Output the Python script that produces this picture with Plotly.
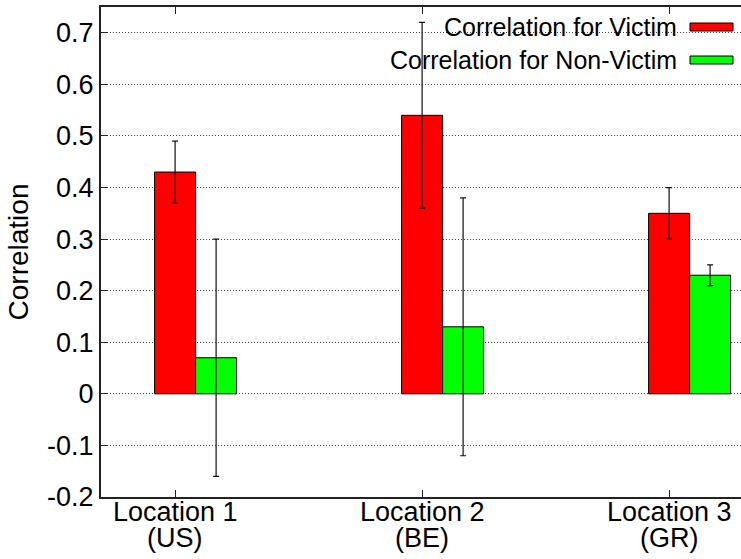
import plotly.graph_objects as go

# Correlation per location, with error half-widths
locations = ["Location 1", "Location 2", "Location 3"]
countries = ["(US)", "(BE)", "(GR)"]
victim = [0.43, 0.54, 0.35]
victim_err = [0.06, 0.18, 0.05]
non_victim = [0.07, 0.13, 0.23]
non_victim_err = [0.23, 0.25, 0.02]
series_names = ["Correlation for Victim", "Correlation for Non-Victim"]
series_colors = ["#ff0000", "#00ff00"]
y_ticks = [-0.2, -0.1, 0, 0.1, 0.2, 0.3, 0.4, 0.5, 0.6, 0.7]
y_tick_text = ["-0.2", "-0.1", "0", "0.1", "0.2", "0.3", "0.4", "0.5", "0.6", "0.7"]

FONT = "Liberation Sans, Arial, Helvetica, sans-serif"
BAR_W = 0.166
W, H = 741, 559
ML, MR, MT, MB = 101, 0, 7, 62

pos = list(range(len(locations)))

fig = go.Figure()
for k, (vals, errs) in enumerate([(victim, victim_err), (non_victim, non_victim_err)]):
    fig.add_trace(go.Bar(
        x=[p + k * BAR_W for p in pos],
        y=vals,
        width=BAR_W,
        name=series_names[k],
        marker=dict(color=series_colors[k], line=dict(color="#000000", width=1)),
        error_y=dict(type="data", array=errs, visible=True,
                     color="#111111", thickness=1.2, width=3),
        showlegend=False,
    ))

# Manual key: right-aligned labels with wide swatches
pw = W - ML - MR
ph = H - MT - MB
def px_x(px):
    return (px - ML) / pw
def px_y(py):
    return (H - MB - py) / ph

shapes = [
    # clear the grid behind the first key row
    dict(type="rect", xref="paper", yref="paper", layer="between",
         x0=px_x(440), x1=1.0, y0=px_y(44), y1=px_y(12),
         fillcolor="white", line=dict(width=0)),
]
annotations = []
row_y = [27, 60]
for k in range(2):
    annotations.append(dict(
        xref="paper", yref="paper", x=px_x(679), y=px_y(row_y[k]),
        xanchor="right", yanchor="middle", text=series_names[k], showarrow=False,
        font=dict(family=FONT, size=25, color="#000000"),
    ))
    shapes.append(dict(
        type="rect", xref="paper", yref="paper", layer="above",
        x0=px_x(690), x1=px_x(733), y0=px_y(row_y[k] + 4), y1=px_y(row_y[k] - 4),
        fillcolor=series_colors[k], line=dict(color="#000000", width=1),
    ))

# Two-line category labels under the axis
for p, loc, cc in zip(pos, locations, countries):
    annotations.append(dict(
        xref="x", yref="paper", x=p, y=0, yshift=-15, xanchor="center", yanchor="middle",
        text=loc, showarrow=False, font=dict(family=FONT, size=27, color="#000000"),
    ))
    annotations.append(dict(
        xref="x", yref="paper", x=p, y=0, yshift=-41, xanchor="center", yanchor="middle",
        text=cc, showarrow=False, font=dict(family=FONT, size=27, color="#000000"),
    ))

fig.update_layout(
    width=W, height=H,
    margin=dict(l=ML, r=MR, t=MT, b=MB),
    paper_bgcolor="white", plot_bgcolor="white",
    barmode="overlay",
    font=dict(family=FONT, size=27, color="#000000"),
    shapes=shapes,
    annotations=annotations,
)
fig.update_xaxes(
    range=[-0.3, -0.3 + pw / 247.0],
    tickvals=pos, ticktext=["" for _ in pos],
    ticks="inside", ticklen=7, tickwidth=1, tickcolor="#222222",
    showline=True, linecolor="#222222", linewidth=2, mirror="allticks",
    showgrid=False, zeroline=False,
)
fig.update_yaxes(
    range=[-0.2, 0.75],
    tickvals=y_ticks, ticktext=y_tick_text,
    ticks="inside", ticklen=7, tickwidth=1, tickcolor="#222222",
    showline=True, linecolor="#222222", linewidth=2,
    showgrid=True, gridcolor="#444444", gridwidth=1, griddash="1px,2px",
    zeroline=False,
    tickfont=dict(family=FONT, size=27),
    title=dict(text="Correlation", font=dict(family=FONT, size=28), standoff=10),
)

fig.write_html("out.html")
